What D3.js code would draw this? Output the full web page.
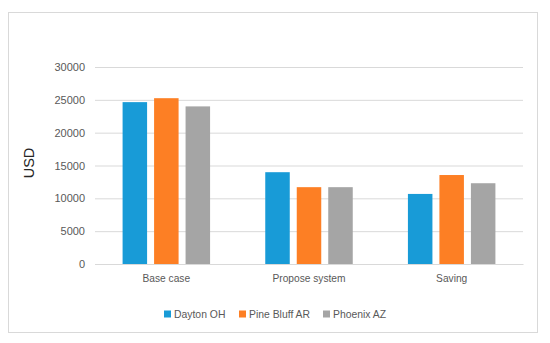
<!DOCTYPE html>
<html>
<head>
<meta charset="utf-8">
<script src="https://cdn.jsdelivr.net/npm/d3@7"></script>
<style>
  html, body { margin: 0; padding: 0; background: #fff; }
  svg { display: block; font-family: "Liberation Sans", Arial, sans-serif; }
</style>
</head>
<body>
<svg id="chart" width="550" height="343"></svg>
<script>
const categories = ["Base case", "Propose system", "Saving"];
const seriesNames = ["Dayton OH", "Pine Bluff AR", "Phoenix AZ"];
const daytonOH = [24650, 13980, 10670];
const pineBluffAR = [25250, 11700, 13550];
const phoenixAZ = [24000, 11700, 12300];
const yTicks = [0, 5000, 10000, 15000, 20000, 25000, 30000];
const colors = ["#189bd7", "#fd7f24", "#a5a5a5"];

(function () {
const seriesValues = [daytonOH, pineBluffAR, phoenixAZ];
const data = categories.map((c, i) => ({
  category: c,
  values: seriesNames.map((s, j) => ({ series: s, value: seriesValues[j][i], color: colors[j] }))
}));

const svg = d3.select("#chart");

// outer border
svg.append("rect")
  .attr("x", 8.5).attr("y", 12.5)
  .attr("width", 529).attr("height", 320)
  .attr("fill", "#fff").attr("stroke", "#d9d9d9").attr("stroke-width", 1);

const plotLeft = 95, plotRight = 523, plotTop = 67, plotBottom = 264;

const x0 = d3.scaleBand().domain(categories).range([plotLeft, plotRight]).padding(0);
const x1 = d3.scaleBand().domain(seriesNames).range([0, x0.bandwidth()])
  .paddingInner(0.222).paddingOuter(0.876);
const y = d3.scaleLinear().domain([0, 30000]).range([plotBottom, plotTop]);

// gridlines + y tick labels
const yAxis = d3.axisLeft(y).tickValues(yTicks).tickSize(-(plotRight - plotLeft)).tickPadding(10)
  .tickFormat(d3.format("d"));
const gy = svg.append("g").attr("transform", `translate(${plotLeft},0)`).call(yAxis);
gy.select(".domain").remove();
gy.selectAll(".tick line").attr("stroke", "#d9d9d9").attr("stroke-width", 1);
gy.selectAll(".tick text").attr("fill", "#595959").attr("font-size", "11px")
  .attr("font-family", "'Liberation Sans', Arial, sans-serif");

// bars
const groups = svg.append("g").selectAll("g").data(data).join("g")
  .attr("transform", d => `translate(${x0(d.category)},0)`);
groups.selectAll("rect").data(d => d.values).join("rect")
  .attr("x", d => x1(d.series))
  .attr("y", d => y(d.value))
  .attr("width", x1.bandwidth())
  .attr("height", d => y(0) - y(d.value))
  .attr("fill", d => d.color);

// x axis labels
const xAxis = d3.axisBottom(x0).tickSize(0).tickPadding(11);
const gx = svg.append("g").attr("transform", `translate(0,${plotBottom})`).call(xAxis);
gx.select(".domain").attr("stroke", "#d9d9d9");
gx.selectAll(".tick text").attr("fill", "#595959").attr("font-size", "10.2px")
  .attr("font-family", "'Liberation Sans', Arial, sans-serif");

// y axis title
svg.append("text")
  .attr("transform", "translate(34,163) rotate(-90)")
  .attr("text-anchor", "middle")
  .attr("font-size", "14.5px")
  .attr("fill", "#262626")
  .text("USD");

// legend
const legendX = [164, 239, 323];
const legend = svg.append("g").selectAll("g").data(seriesNames).join("g")
  .attr("transform", (d, i) => `translate(${legendX[i]},314)`);
legend.append("rect").attr("x", 0).attr("y", -3.5).attr("width", 7).attr("height", 7)
  .attr("fill", (d, i) => colors[i]);
legend.append("text").attr("x", 10).attr("y", 0).attr("dy", "0.35em")
  .attr("font-size", "10.4px").attr("fill", "#595959").text(d => d);
})();
</script>
</body>
</html>
